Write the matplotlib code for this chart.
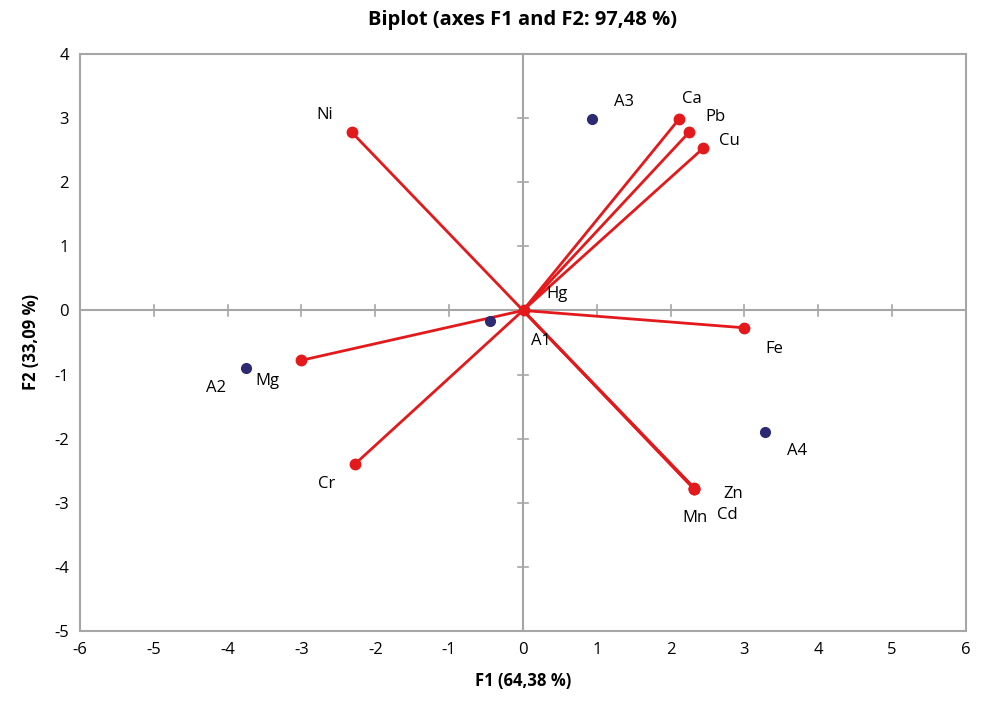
import matplotlib
matplotlib.use("Agg")
import matplotlib.pyplot as plt
import numpy as np

plt.rcParams['font.family'] = ['Open Sans', 'DejaVu Sans']
plt.rcParams['axes.unicode_minus'] = False

var_names = ['Ni', 'Ca', 'Pb', 'Cu', 'Fe', 'Zn', 'Cd', 'Mn', 'Mg', 'Cr', 'Hg']
var_f1 = [-2.32, 2.11, 2.25, 2.44, 2.99, 2.32, 2.32, 2.31, -3.01, -2.28, 0.01]
var_f2 = [2.78, 2.98, 2.78, 2.53, -0.27, -2.77, -2.78, -2.78, -0.78, -2.40, 0.01]
var_lbl_off = [(-27, 17), (13, 20), (26, 15), (26, 7), (31, -21), (39, -6), (33, -26),
               (1, -29), (-33, -21), (-28, -20), (33, 16)]

obs_names = ['A1', 'A2', 'A3', 'A4']
obs_f1 = [-0.45, -3.75, 0.93, 3.28]
obs_f2 = [-0.17, -0.90, 2.98, -1.90]
obs_lbl_off = [(51, -20), (-30, -20), (32, 17), (32, -19)]

xticks = list(range(-6, 7))
yticks = list(range(-5, 5))

red = '#E3191C'
navy = '#2B2A72'
grey = '#A6A6A6'

fig = plt.figure(figsize=(9.87, 7.05), dpi=100)
ax = fig.add_axes([80/987, 1-631/705, (966-80)/987, (631-54)/705])
ax.set_xlim(-6, 6)
ax.set_ylim(-5, 4)

for s in ax.spines.values():
    s.set_color(grey)
    s.set_linewidth(1.5)

ax.axhline(0, color=grey, lw=1.5, zorder=1)
ax.axvline(0, color=grey, lw=1.5, zorder=1)

# tick crosses on zero lines
for xt in xticks:
    if xt != 0:
        ax.plot([xt, xt], [-0.08, 0.08], color=grey, lw=1.2, zorder=1)
for yt in yticks:
    if yt != 0:
        ax.plot([-0.07, 0.07], [yt, yt], color=grey, lw=1.2, zorder=1)

ax.set_xticks(xticks)
ax.set_yticks(yticks)
ax.tick_params(length=0, labelsize=12, pad=8, colors='black')

for n, x, y, off in zip(var_names, var_f1, var_f2, var_lbl_off):
    ax.plot([0, x], [0, y], color=red, lw=2, zorder=3)
    ax.plot(x, y, 'o', color=red, ms=7.5, zorder=4)
    ax.annotate(n, (x, y), xytext=off, textcoords='offset pixels',
                ha='center', va='center', fontsize=12)

ax.plot(obs_f1, obs_f2, 'o', color=navy, ms=7, zorder=5, lw=0)
for n, x, y, off in zip(obs_names, obs_f1, obs_f2, obs_lbl_off):
    ax.annotate(n, (x, y), xytext=off, textcoords='offset pixels',
                ha='center', va='center', fontsize=12)

ax.set_xlabel('F1 (64,38 %)', fontsize=12, fontweight='bold', labelpad=10)
ax.set_ylabel('F2 (33,09 %)', fontsize=12, fontweight='bold', labelpad=10)
fig.text((80+966)/2/987, 1-20/705, 'Biplot (axes F1 and F2: 97,48 %)', ha='center', va='center',
         fontsize=14.5, fontweight='bold')

fig.savefig('out.png', dpi=100)
